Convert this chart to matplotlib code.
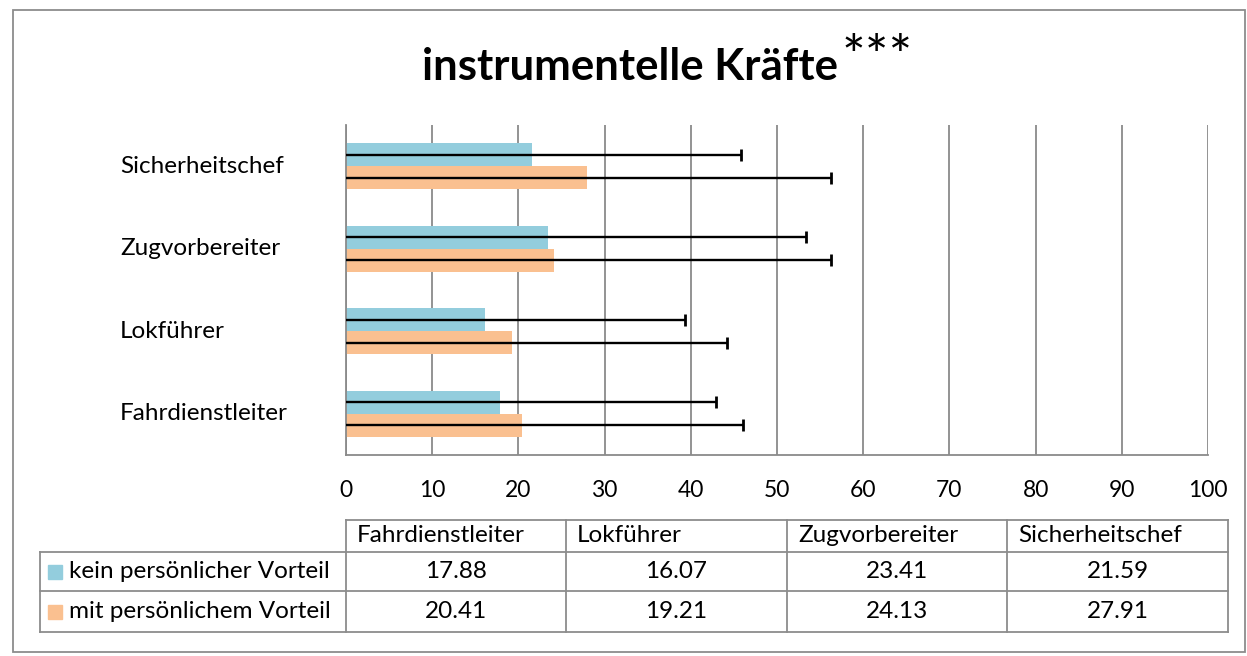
import matplotlib
matplotlib.use("Agg")
import matplotlib.pyplot as plt
from matplotlib.patches import Rectangle
from matplotlib.lines import Line2D
import matplotlib.transforms as mtransforms
import numpy as np

plt.rcParams['font.family'] = ['Lato', 'DejaVu Sans']

categories = ["Fahrdienstleiter", "Lokführer", "Zugvorbereiter", "Sicherheitschef"]
series_names = ["kein persönlicher Vorteil", "mit persönlichem Vorteil"]
kein = [17.88, 16.07, 23.41, 21.59]
mit = [20.41, 19.21, 24.13, 27.91]
kein_sd = [25.0, 23.3, 29.9, 24.2]
mit_sd = [25.7, 25.0, 32.1, 28.3]
xticks = [0, 10, 20, 30, 40, 50, 60, 70, 80, 90, 100]
title = "instrumentelle Kräfte"
title_sup = "***"

c_kein = "#93CDDD"
c_mit = "#FAC090"
grid_c = "#8A8A8A"

W, H = 1247, 656
fig = plt.figure(figsize=(W/100, H/100), dpi=100)

def fx(px): return px / W
def fy(py): return 1 - py / H

ax = fig.add_axes([fx(346), fy(455), fx(1208) - fx(346), fy(125) - fy(455)])
y = np.arange(len(categories))
bh = 0.28
y_kein = y + bh/2
y_mit = y - bh/2
ax.barh(y_kein, kein, height=bh, color=c_kein, zorder=2)
ax.barh(y_mit, mit, height=bh, color=c_mit, zorder=2)

for vals, sds, ys in [(kein, kein_sd, y_kein), (mit, mit_sd, y_mit)]:
    vals = np.array(vals); sds = np.array(sds)
    lower = np.minimum(vals, sds)
    ax.errorbar(vals, ys, xerr=[lower, sds], fmt='none', ecolor='black',
                elinewidth=1.7, capsize=0, zorder=3)
    ax.plot(vals + sds, ys, linestyle='none', marker='|', markersize=9,
            markeredgewidth=2.0, color='black', zorder=3)

ax.set_xlim(0, 100)
ax.set_ylim(-0.5, len(categories) - 0.5)
ax.set_xticks(xticks)
ax.set_xticklabels([str(t) for t in xticks], fontsize=16.5)
ax.tick_params(axis='x', length=0, pad=18)
ax.set_yticks([])
ax.xaxis.grid(True, color=grid_c, linewidth=1.3, zorder=0)
ax.set_axisbelow(True)
for s in ['top', 'right']:
    ax.spines[s].set_visible(False)
ax.spines['left'].set_color(grid_c)
ax.spines['left'].set_linewidth(1.3)
ax.spines['bottom'].set_color(grid_c)
ax.spines['bottom'].set_linewidth(1.3)

# category labels
trans = mtransforms.blended_transform_factory(fig.transFigure, ax.transData)
for yi, cat in zip(y, categories):
    ax.text(fx(120), yi, cat, transform=trans, ha='left', va='center', fontsize=17.5)

# title
t = fig.text(fx(422), fy(80), title, fontsize=31.5, fontweight='bold', ha='left', va='baseline')
fig.canvas.draw()
bb = t.get_window_extent()
fig.text(bb.x1 / W + fx(4), fy(34), title_sup, fontsize=40, ha='left', va='top')

# figure border
fig.add_artist(Rectangle((fx(13), fy(652)), fx(1245) - fx(13), fy(10) - fy(652),
                         transform=fig.transFigure, fill=False, edgecolor='#8C8C8C', linewidth=1.3))

# data table
col_x = [346, 566, 787, 1007, 1228]
row_y = [520, 552, 591, 632]
lab_x0 = 40
tc = '#8C8C8C'
def hline(x0, x1, yy):
    fig.add_artist(Line2D([fx(x0), fx(x1)], [fy(yy), fy(yy)], transform=fig.transFigure, color=tc, lw=1.3))
def vline(xx, y0, y1):
    fig.add_artist(Line2D([fx(xx), fx(xx)], [fy(y0), fy(y1)], transform=fig.transFigure, color=tc, lw=1.3))

hline(col_x[0], col_x[-1], row_y[0])
for ry in row_y[1:]:
    hline(lab_x0, col_x[-1], ry)
for cx in col_x:
    vline(cx, row_y[0], row_y[-1])
vline(lab_x0, row_y[1], row_y[-1])

fs_tab = 17.5
for i, cat in enumerate(categories):
    fig.text(fx(col_x[i] + 11), fy((row_y[0] + row_y[1]) / 2), cat, fontsize=fs_tab, ha='left', va='center')
series_vals = [kein, mit]
series_cols = [c_kein, c_mit]
for r in range(2):
    yc = (row_y[r+1] + row_y[r+2]) / 2
    fig.add_artist(Rectangle((fx(48), fy(yc + 7)), fx(14), fy(0) - fy(14),
                             transform=fig.transFigure, color=series_cols[r]))
    fig.text(fx(69), fy(yc), series_names[r], fontsize=fs_tab, ha='left', va='center')
    for i, v in enumerate(series_vals[r]):
        fig.text(fx((col_x[i] + col_x[i+1]) / 2), fy(yc), f"{v:.2f}", fontsize=fs_tab, ha='center', va='center')

fig.savefig("out.png", dpi=100)
